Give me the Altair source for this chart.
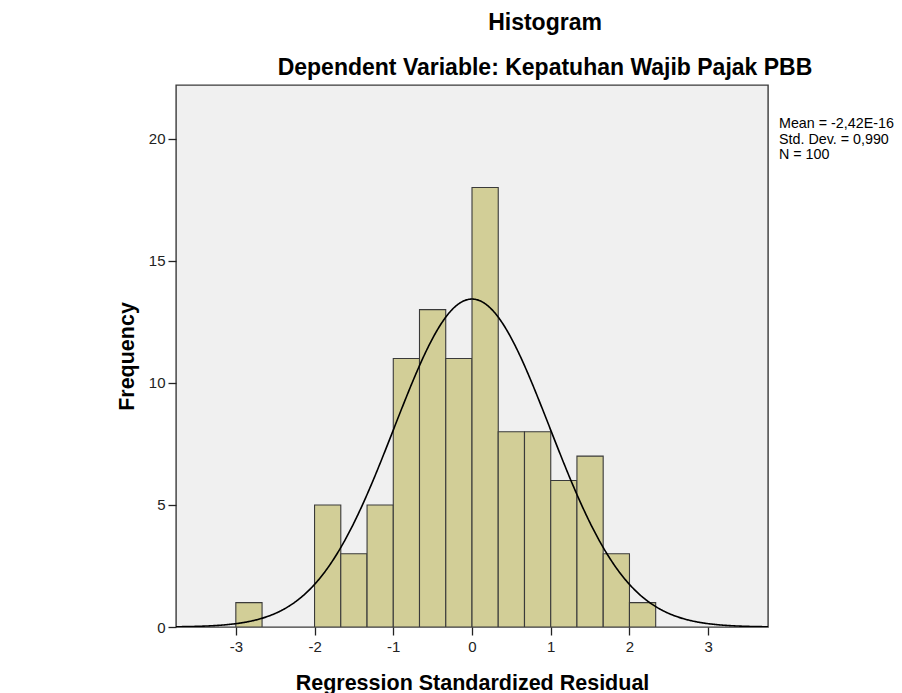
import altair as alt
import pandas as pd

# ---- data ----
bin_lo = [-3.0, -2.0, -1.667, -1.333, -1.0, -0.667, -0.333, 0.0, 0.333, 0.667, 1.0, 1.333, 1.667, 2.0]
counts = [1, 5, 3, 5, 11, 13, 11, 18, 8, 8, 6, 7, 3, 1]
bin_width = 1 / 3
x_ticks = [-3, -2, -1, 0, 1, 2, 3]
y_ticks = [0, 5, 10, 15, 20]
stat_mean = -2.42e-16
stat_sd = 0.990
stat_n = 100
stats_lines = ["Mean = -2,42E-16", "Std. Dev. = 0,990", "N = 100"]

FONT = "Liberation Sans"
W, H = 592, 542

bars_df = pd.DataFrame({"lo": bin_lo, "count": counts})

x_scale = alt.Scale(domain=[-3.76, 3.76], nice=False, zero=False)
y_scale = alt.Scale(domain=[0, 22.2], nice=False)

x_axis = alt.Axis(
    values=x_ticks, title="Regression Standardized Residual", domain=False, grid=False,
    labelExpr="'' + datum.value",
    tickSize=8, tickColor="#222", tickWidth=1.3, labelFont=FONT, labelFontSize=15,
    labelColor="#222", labelPadding=4, titleFont=FONT, titleFontSize=21.5,
    titleFontWeight="bold", titleColor="black", titleBaseline="alphabetic",
    titleY=62, titleX=W / 2, titleAnchor="middle", titleAlign="center",
)
y_axis = alt.Axis(
    values=y_ticks, title="Frequency", domain=False, grid=False,
    labelExpr="'' + datum.value",
    tickSize=8, tickColor="#222", tickWidth=1.3, labelFont=FONT, labelFontSize=15,
    labelColor="#222", labelPadding=3, titleFont=FONT, titleFontSize=21.5,
    titleFontWeight="bold", titleColor="black", titleBaseline="alphabetic",
    titleAngle=-90, titleX=-43, titleY=H / 2, titleAlign="center", titleAnchor="middle",
)

bars = alt.Chart(bars_df).transform_calculate(
    hi=f"datum.lo + {bin_width}"
).mark_rect(fill="#D2CE97", stroke="#3A3A3A", strokeWidth=1.1, clip=True).encode(
    x=alt.X("lo:Q", scale=x_scale, axis=x_axis),
    x2="hi:Q",
    y=alt.Y("count:Q", scale=y_scale, axis=y_axis),
    y2=alt.datum(0),
)

curve = alt.Chart(alt.sequence(-3.76, 3.761, 0.01, as_="x")).transform_calculate(
    y=f"{stat_n} * {bin_width} * exp(-0.5 * pow((datum.x - ({stat_mean})) / {stat_sd}, 2)) / ({stat_sd} * sqrt(2 * PI))"
).mark_line(color="black", strokeWidth=1.6, clip=True).encode(
    x=alt.X("x:Q", scale=x_scale),
    y=alt.Y("y:Q", scale=y_scale),
)

stats = alt.Chart(alt.Data(values=[{}])).mark_text(
    text=stats_lines, align="left", baseline="alphabetic", font=FONT,
    fontSize=14.3, lineHeight=15.5, color="black",
).encode(x=alt.value(603), y=alt.value(43.3))

chart = alt.layer(bars, curve, stats).properties(
    width=W,
    height=H,
    background="white",
    autosize=alt.AutoSizeParams(type="none"),
    padding={"left": 168, "top": 77, "right": 126, "bottom": 72},
    title=alt.TitleParams(
        text="Histogram",
        subtitle="Dependent Variable: Kepatuhan Wajib Pajak PBB",
        font=FONT, fontSize=23, fontWeight="bold", color="black",
        subtitleFont=FONT, subtitleFontSize=23, subtitleFontWeight="bold",
        subtitleColor="black", anchor="middle", dx=73, offset=5, subtitlePadding=22,
    ),
).configure_view(fill="#F0F0F0", stroke="#3A3A3A", strokeWidth=1.4)

chart.save("out.html", embed_options={"renderer": "svg", "actions": False})
